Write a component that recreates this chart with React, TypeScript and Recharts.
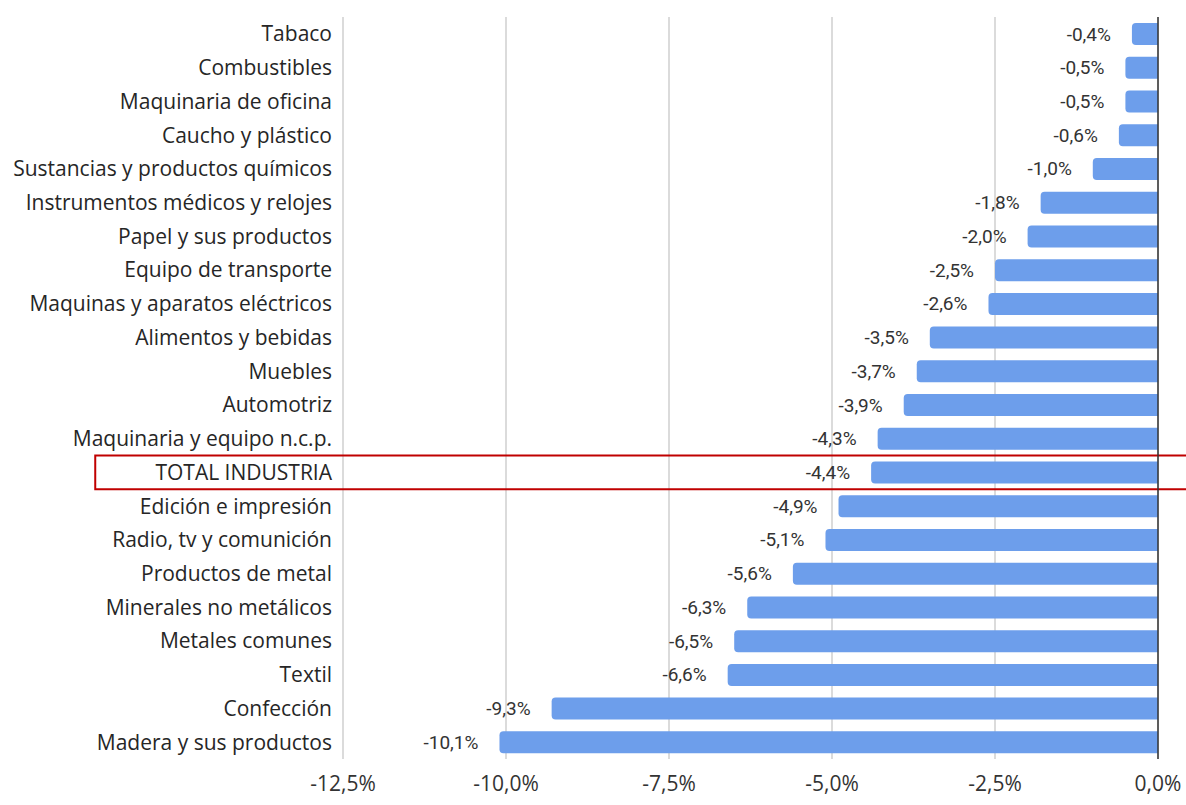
import {
  BarChart,
  Bar,
  XAxis,
  YAxis,
  CartesianGrid,
  ReferenceLine,
  ReferenceArea,
  LabelList,
} from "recharts";

const categories = [
  "Tabaco",
  "Combustibles",
  "Maquinaria de oficina",
  "Caucho y plástico",
  "Sustancias y productos químicos",
  "Instrumentos médicos y relojes",
  "Papel y sus productos",
  "Equipo de transporte",
  "Maquinas y aparatos eléctricos",
  "Alimentos y bebidas",
  "Muebles",
  "Automotriz",
  "Maquinaria y equipo n.c.p.",
  "TOTAL INDUSTRIA",
  "Edición e impresión",
  "Radio, tv y comunición",
  "Productos de metal",
  "Minerales no metálicos",
  "Metales comunes",
  "Textil",
  "Confección",
  "Madera y sus productos",
];

const changes = [
  -0.4, -0.5, -0.5, -0.6, -1.0, -1.8, -2.0, -2.5, -2.6, -3.5, -3.7, -3.9, -4.3,
  -4.4, -4.9, -5.1, -5.6, -6.3, -6.5, -6.6, -9.3, -10.1,
];

const xTicks = [-12.5, -10, -7.5, -5, -2.5, 0];

const highlight = "TOTAL INDUSTRIA";

const data = categories.map((name, i) => ({ name, value: changes[i] }));

const fmt = (v: number) => `${v.toFixed(1).replace(".", ",")}%`;

const ValueLabel = (props: any) => {
  const { x, y, width, height, value } = props;
  const end = Math.min(x, x + width);
  return (
    <text
      x={end - 21}
      y={y + height / 2}
      textAnchor="end"
      dominantBaseline="central"
      fill="#333"
      fontSize={19}
      fontFamily="Roboto, sans-serif"
    >
      {fmt(value)}
    </text>
  );
};

export default function App() {
  return (
    <div style={{ position: "absolute", left: 0, top: 0, background: "#fff" }}>
      <BarChart
        width={1186}
        height={805}
        data={data}
        layout="vertical"
        margin={{ top: 17, right: 28, left: 0, bottom: 16 }}
        barCategoryGap="18%"
      >
        <CartesianGrid horizontal={false} stroke="#cfcfcf" strokeWidth={1.5} />
        <XAxis
          type="number"
          domain={[-12.5, 0]}
          ticks={xTicks}
          tickFormatter={fmt}
          axisLine={false}
          tickLine={false}
          tickMargin={11}
          tick={{ fill: "#333", fontSize: 21, fontFamily: "Open Sans, sans-serif" }}
        />
        <YAxis
          type="category"
          dataKey="name"
          width={343}
          axisLine={false}
          tickLine={false}
          tickMargin={5}
          interval={0}
          tick={{ fill: "#262626", fontSize: 21, fontFamily: "Open Sans, sans-serif" }}
        />
        <ReferenceLine x={0} stroke="#333" strokeWidth={1.5} />
        <Bar
          dataKey="value"
          fill="#6d9eeb"
          radius={[0, 4, 4, 0]}
          isAnimationActive={false}
        >
          <LabelList dataKey="value" content={ValueLabel} />
        </Bar>
        <ReferenceArea
          y1={highlight}
          y2={highlight}
          x1={-16.3}
          x2={1}
          ifOverflow="visible"
          fill="none"
          stroke="#c00000"
          strokeWidth={2}
        />
      </BarChart>
    </div>
  );
}
